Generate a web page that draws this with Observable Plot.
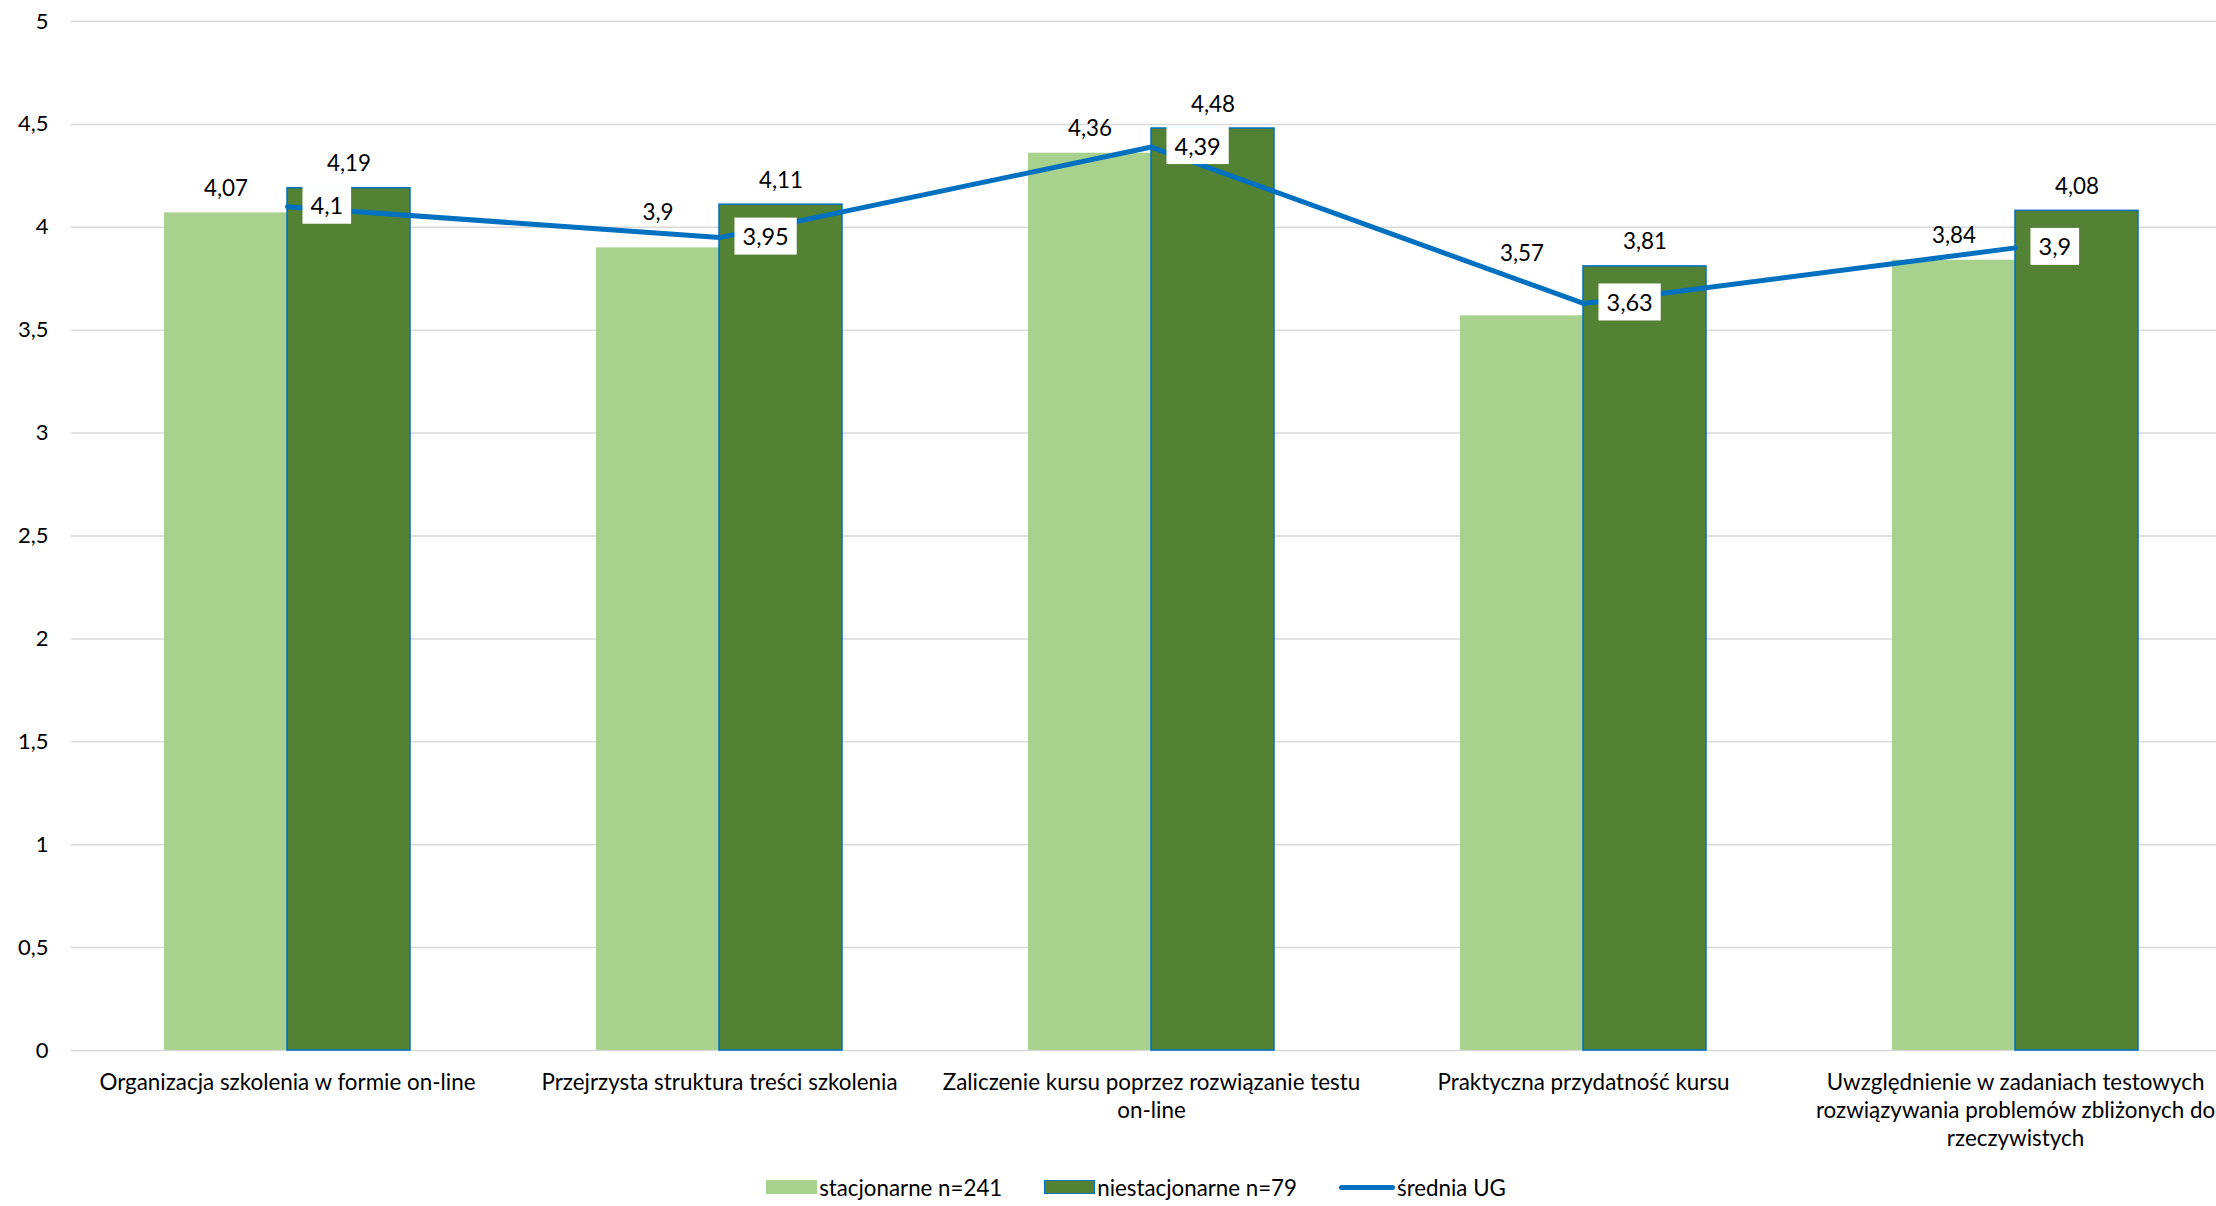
<!DOCTYPE html>
<html><head><meta charset="utf-8">
<script src="https://cdn.jsdelivr.net/npm/d3@7"></script>
<script src="https://cdn.jsdelivr.net/npm/@observablehq/plot@0.6"></script>
<style>
body{margin:0;background:#fff;font-family:Lato,"Open Sans",sans-serif;}
#legend{display:flex;justify-content:center;align-items:center;padding-left:56px;height:34px;font-size:22.3px;color:#000;}
#legend .item{display:flex;align-items:center;margin:0 21px;}
#legend .sw{display:inline-block;width:51px;height:14px;margin-right:2px;box-sizing:border-box;}
#legend .ln{display:inline-block;width:56px;height:5px;border-radius:3px;margin-right:2px;}
</style></head><body>
<div id="chart"></div>
<div id="legend"></div>
<script>
const categories = [
  "Organizacja szkolenia w formie on-line",
  "Przejrzysta struktura treści szkolenia",
  "Zaliczenie kursu poprzez rozwiązanie testu on-line",
  "Praktyczna przydatność kursu",
  "Uwzględnienie w zadaniach testowych rozwiązywania problemów zbliżonych do rzeczywistych"
];
const tickLabels = [
  "Organizacja szkolenia w formie on-line",
  "Przejrzysta struktura treści szkolenia",
  "Zaliczenie kursu poprzez rozwiązanie testu\non-line",
  "Praktyczna przydatność kursu",
  "Uwzględnienie w zadaniach testowych\nrozwiązywania problemów zbliżonych do\nrzeczywistych"
];
const stacjonarne = [4.07, 3.9, 4.36, 3.57, 3.84];
const niestacjonarne = [4.19, 4.11, 4.48, 3.81, 4.08];
const sredniaUG = [4.1, 3.95, 4.39, 3.63, 3.9];
const seriesNames = ["stacjonarne n=241", "niestacjonarne n=79", "średnia UG"];
const yTicks = [0, 0.5, 1, 1.5, 2, 2.5, 3, 3.5, 4, 4.5, 5];

const colLight = "#A9D18E", colDark = "#548235", colBlue = "#0070C0";
const W = 2216, H = 1170;
const ML = 71, MR = -15, MT = 21, MB = H - 1050;
const band = (W - ML - MR) / categories.length;
const barW = 123;
const inset = band / 2 - barW;
const FS = 22.4;
const fmt = v => String(v).replace(".", ",");
const rows = categories.map((c, i) => ({c, s: stacjonarne[i], n: niestacjonarne[i], a: sredniaUG[i], label: tickLabels[i]}));
// labels of the light bars that were nudged upward to clear the line (by category index)
const raisedMid = new Set([1]);
const raisedHigh = new Set([3]);

const chart = Plot.plot({
  width: W, height: H,
  marginLeft: ML, marginRight: MR, marginTop: MT, marginBottom: MB,
  style: {fontFamily: "Lato, 'Open Sans', sans-serif", fontSize: FS + "px", color: "#000", background: "#fff", overflow: "hidden"},
  x: {domain: categories, padding: 0, axis: null},
  y: {domain: [0, 5]},
  marks: [
    Plot.ruleY(yTicks, {stroke: "#d9d9d9", strokeWidth: 1.5}),
    Plot.axisY({ticks: yTicks, tickFormat: fmt, tickSize: 0, tickPadding: 23, fontSize: 22, fill: "#000"}),
    Plot.barY(rows, {x: "c", y: "s", fill: colLight, insetLeft: inset, insetRight: band / 2}),
    Plot.barY(rows, {x: "c", y: "n", fill: colDark, stroke: colBlue, strokeWidth: 1.5, insetLeft: band / 2, insetRight: inset}),
    Plot.text(rows, {filter: (d, i) => !raisedMid.has(i) && !raisedHigh.has(i), x: "c", y: "s", text: d => fmt(d.s), dx: -barW / 2, dy: -17, lineAnchor: "bottom", fontSize: FS, fill: "#000"}),
    Plot.text(rows, {filter: (d, i) => raisedMid.has(i), x: "c", y: "s", text: d => fmt(d.s), dx: -barW / 2, dy: -28, lineAnchor: "bottom", fontSize: FS, fill: "#000"}),
    Plot.text(rows, {filter: (d, i) => raisedHigh.has(i), x: "c", y: "s", text: d => fmt(d.s), dx: -barW / 2, dy: -55, lineAnchor: "bottom", fontSize: FS, fill: "#000"}),
    Plot.text(rows, {x: "c", y: "n", text: d => fmt(d.n), dx: barW / 2, dy: -17, lineAnchor: "bottom", fontSize: FS, fill: "#000"}),
    Plot.lineY(rows, {x: "c", y: "a", stroke: colBlue, strokeWidth: 5, strokeLinecap: "round", strokeLinejoin: "round"}),
    Plot.text(rows, {x: "c", y: "a", text: d => fmt(d.a), dx: 23, textAnchor: "start", lineAnchor: "middle", fontSize: 23.5, fill: "#000", ariaDescription: "avg-labels"}),
    Plot.text(rows, {x: "c", text: "label", frameAnchor: "bottom", lineAnchor: "top", dy: 19, lineHeight: 1.26, fontSize: FS, fill: "#000"})
  ]
});
document.getElementById("chart").append(chart);

// white boxes behind average labels
const g = chart.querySelector('g[aria-description="avg-labels"]');
if (g) {
  g.querySelectorAll("text").forEach(t => {
    const b = t.getBBox();
    const r = document.createElementNS("http://www.w3.org/2000/svg", "rect");
    r.setAttribute("x", b.x - 8);
    r.setAttribute("width", b.width + 16);
    r.setAttribute("y", b.y + b.height / 2 - 18.5);
    r.setAttribute("height", 37);
    r.setAttribute("fill", "#fff");
    const tr = t.getAttribute("transform");
    if (tr) r.setAttribute("transform", tr);
    t.parentNode.insertBefore(r, t);
  });
}

// legend
const legend = document.getElementById("legend");
const swatches = [
  `<span class="sw" style="background:${colLight}"></span>`,
  `<span class="sw" style="background:${colDark};border:1.5px solid ${colBlue}"></span>`,
  `<span class="ln" style="background:${colBlue}"></span>`
];
seriesNames.forEach((name, i) => {
  const it = document.createElement("span");
  it.className = "item";
  it.innerHTML = swatches[i] + `<span>${name}</span>`;
  legend.append(it);
});
</script>
</body></html>
